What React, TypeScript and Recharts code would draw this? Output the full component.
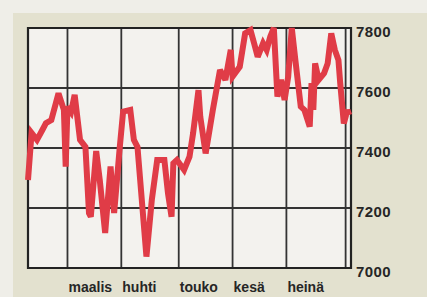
import { CartesianGrid, Line, LineChart, ReferenceArea, XAxis, YAxis } from "recharts";

// päivä (x) ja indeksin arvo, luettu kuvasta
const days = [
  0, 2, 5, 8, 10, 13, 17, 20, 21, 22, 24, 26, 29, 32, 34, 35, 38, 40, 43, 46,
  48, 51, 53, 57, 59, 61, 66, 69, 72, 76, 78, 80, 81, 83, 87, 90, 92, 95, 96, 99,
  103, 107, 110, 113, 114, 118, 121, 124, 126, 128, 131, 133, 135, 137, 139, 141,
  143, 145, 147, 149, 152, 154, 157, 158, 159, 160, 162, 165, 167, 169, 171, 173,
  174, 176, 178, 179,
];
const values = [
  7293, 7450, 7427, 7460, 7483, 7493, 7582, 7527, 7338, 7538, 7520, 7577, 7427,
  7404, 7183, 7171, 7390, 7293, 7117, 7338, 7183, 7393, 7521, 7527, 7427, 7404,
  7038, 7227, 7360, 7360, 7250, 7171, 7349, 7360, 7327, 7371, 7449, 7593, 7504,
  7382, 7527, 7660, 7627, 7727, 7638, 7671, 7782, 7793, 7749, 7704, 7749, 7727,
  7771, 7800, 7571, 7627, 7560, 7638, 7800, 7693, 7538, 7527, 7471, 7616, 7527,
  7682, 7627, 7649, 7682, 7782, 7727, 7693, 7616, 7482, 7527, 7510,
];

const monthTicks = [22, 52, 84, 114, 144, 177];
const monthLabels = ["maalis", "huhti", "touko", "kesä", "heinä", ""];
const valueTicks = [7000, 7200, 7400, 7600, 7800];

const data = days.map((d, i) => ({ day: d, value: values[i] }));

const FONT = "'Liberation Sans', Arial, sans-serif";
const INK = "#262626";

function MonthTick({ x, y, payload }: any) {
  const i = monthTicks.indexOf(payload.value);
  return (
    <text x={x + 1} y={y + 16} fontFamily={FONT} fontSize={14} fontWeight="bold" fill={INK}>
      {monthLabels[i]}
    </text>
  );
}

function ValueTick({ x, y, payload }: any) {
  return (
    <text
      x={x}
      y={y + 4}
      dy="0.36em"
      fontFamily={FONT}
      fontSize={15}
      fontWeight="bold"
      letterSpacing={0.4}
      fill={INK}
    >
      {payload.value}
    </text>
  );
}

export default function App() {
  return (
    <div
      style={{
        position: "fixed",
        top: 0,
        left: 0,
        width: 427,
        height: 297,
        background: "#efeee8",
        overflow: "hidden",
      }}
    >
      <div
        style={{
          position: "absolute",
          left: 13,
          top: 13,
          right: 0,
          bottom: 0,
          background: "#e3e1cf",
        }}
      />
      <div style={{ position: "absolute", left: 0, top: 0 }}>
        <LineChart
          width={427}
          height={297}
          data={data}
          margin={{ top: 28, left: 28, right: 16, bottom: 0 }}
        >
          <CartesianGrid
            fill="#f3f2ee"
            fillOpacity={1}
            stroke="#333"
            strokeWidth={1.8}
            strokeDasharray=""
          />
          <XAxis
            dataKey="day"
            type="number"
            domain={[0, 180]}
            ticks={monthTicks}
            tick={<MonthTick />}
            tickLine={false}
            axisLine={false}
            height={29}
            interval={0}
          />
          <YAxis
            orientation="right"
            type="number"
            domain={[7000, 7800]}
            ticks={valueTicks}
            tick={<ValueTick />}
            tickLine={false}
            axisLine={false}
            tickSize={0}
            tickMargin={5}
            width={60}
            interval={0}
          />
          <ReferenceArea
            x1={0}
            x2={180}
            y1={7000}
            y2={7800}
            fill="none"
            stroke="#222"
            strokeWidth={2.2}
            fillOpacity={0}
          />
          <Line
            type="linear"
            dataKey="value"
            stroke="#e03c47"
            strokeWidth={6}
            strokeLinejoin="miter"
            strokeMiterlimit={3}
            dot={false}
            activeDot={false}
            isAnimationActive={false}
          />
        </LineChart>
      </div>
    </div>
  );
}
